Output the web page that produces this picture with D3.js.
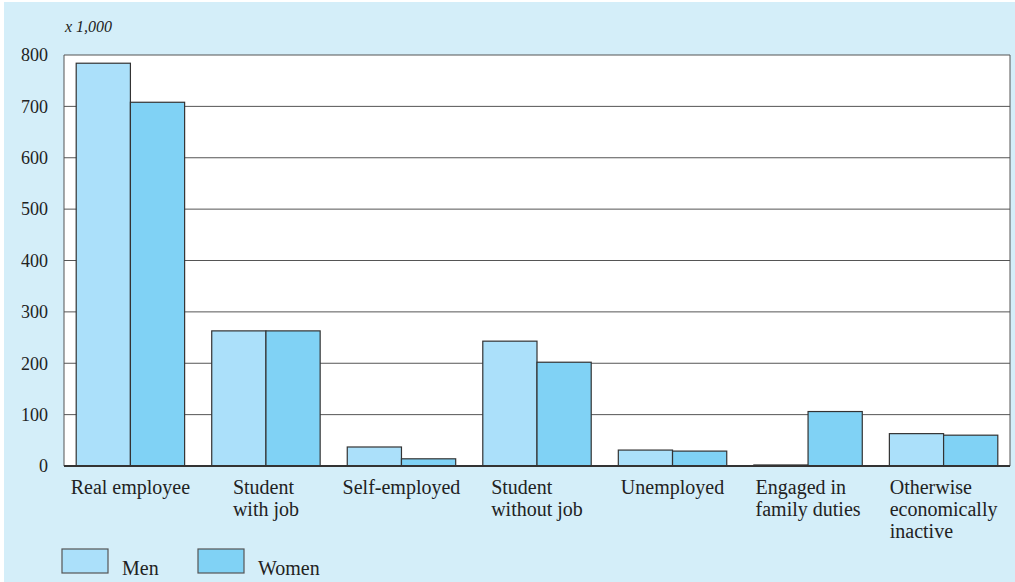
<!DOCTYPE html>
<html>
<head>
<meta charset="utf-8">
<script src="https://cdn.jsdelivr.net/npm/d3@7"></script>
<style>
  body { margin: 0; background: #fff; }
  text { font-family: "Liberation Serif", "DejaVu Serif", serif; fill: #222; }
</style>
</head>
<body>
<script>
// data (x 1,000)
var categories = [
  ["Real employee"],
  ["Student", "with job"],
  ["Self-employed"],
  ["Student", "without job"],
  ["Unemployed"],
  ["Engaged in", "family duties"],
  ["Otherwise", "economically", "inactive"]
];
var series = ["Men", "Women"];
var men =   [784, 263, 37, 243, 31, 2, 63];
var women = [708, 263, 14, 202, 29, 106, 60];
var yTicks = [0, 100, 200, 300, 400, 500, 600, 700, 800];

var colours = { Men: "#abe0fa", Women: "#80d2f5" };

var svg = d3.select("body").append("svg")
  .attr("width", 1015).attr("height", 582);

// light blue panel
svg.append("rect")
  .attr("x", 4).attr("y", 2).attr("width", 1011).attr("height", 580)
  .attr("fill", "#d4eef9");

var plotL = 64, plotR = 1010, plotT = 55, plotB = 466;

var x = d3.scaleBand()
  .domain(d3.range(categories.length))
  .range([plotL, plotR])
  .paddingInner(0.2).paddingOuter(0.09);
var xs = d3.scaleBand().domain(series).range([0, x.bandwidth()]);
var y = d3.scaleLinear().domain([0, 800]).range([plotB, plotT]);

// white plot area
svg.append("rect")
  .attr("x", plotL).attr("y", plotT)
  .attr("width", plotR - plotL).attr("height", plotB - plotT)
  .attr("fill", "#fff");

// gridlines
svg.append("g").selectAll("line")
  .data(yTicks.filter(function(d){ return d > 0; }))
  .join("line")
  .attr("x1", plotL).attr("x2", plotR)
  .attr("y1", function(d){ return y(d); }).attr("y2", function(d){ return y(d); })
  .attr("stroke", "#555").attr("stroke-width", 1);

svg.append("line")
  .attr("x1", plotL).attr("x2", plotL).attr("y1", plotT).attr("y2", plotB)
  .attr("stroke", "#555");
svg.append("line")
  .attr("x1", plotR).attr("x2", plotR).attr("y1", plotT).attr("y2", plotB)
  .attr("stroke", "#555");

// y axis labels
var yAxis = svg.append("g")
  .attr("transform", "translate(" + plotL + ",0)")
  .call(d3.axisLeft(y).tickValues(yTicks).tickSize(0).tickPadding(16));
yAxis.select(".domain").remove();
yAxis.selectAll("text")
  .attr("font-family", "Liberation Serif, serif")
  .attr("font-size", 18).attr("fill", "#222");

svg.append("text")
  .attr("x", 65).attr("y", 32)
  .attr("font-size", 16).attr("font-style", "italic")
  .text("x 1,000");

// bars
var groups = svg.append("g").selectAll("g")
  .data(categories.map(function(c, i){ return i; }))
  .join("g")
  .attr("transform", function(i){ return "translate(" + x(i) + ",0)"; });

groups.selectAll("rect")
  .data(function(i){ return [{ s: "Men", v: men[i] }, { s: "Women", v: women[i] }]; })
  .join("rect")
  .attr("x", function(d){ return xs(d.s); })
  .attr("y", function(d){ return y(d.v); })
  .attr("width", xs.bandwidth())
  .attr("height", function(d){ return y(0) - y(d.v); })
  .attr("fill", function(d){ return colours[d.s]; })
  .attr("stroke", "#333").attr("stroke-width", 1.2);

// baseline
svg.append("line")
  .attr("x1", plotL).attr("x2", plotR).attr("y1", plotB).attr("y2", plotB)
  .attr("stroke", "#333").attr("stroke-width", 2);

// category labels: block centred, lines left aligned
categories.forEach(function(lines, i){
  var g = svg.append("g");
  var t = g.selectAll("text").data(lines).join("text")
    .attr("y", function(d, k){ return 494 + k * 22; })
    .attr("font-size", 20)
    .text(function(d){ return d; });
  var w = 0;
  t.each(function(){ w = Math.max(w, this.getComputedTextLength()); });
  t.attr("x", x(i) + x.bandwidth() / 2 - w / 2);
});

// legend
var legend = svg.append("g").selectAll("g")
  .data(series).join("g")
  .attr("transform", function(d, i){ return "translate(" + (62 + i * 136) + ",549)"; });
legend.append("rect")
  .attr("width", 46).attr("height", 24)
  .attr("fill", function(d){ return colours[d]; })
  .attr("stroke", "#555").attr("stroke-width", 1.2);
legend.append("text")
  .attr("x", 60).attr("y", 26)
  .attr("font-size", 20)
  .text(function(d){ return d; });
</script>
</body>
</html>
